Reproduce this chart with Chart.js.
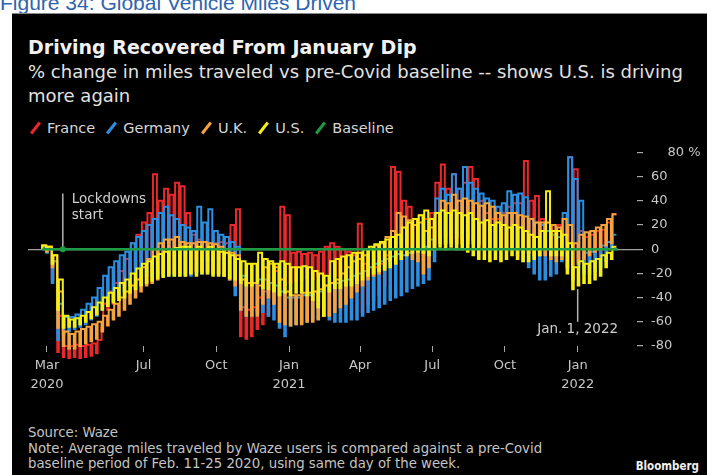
<!DOCTYPE html>
<html>
<head>
<meta charset="utf-8">
<script src="https://cdn.jsdelivr.net/npm/chart.js@4.4.1/dist/chart.umd.min.js"></script>
<style>
    body {
        margin: 0;
        width: 707px;
        height: 475px;
        overflow: hidden;
        position: relative;
        background: #ffffff;
        font-family: "DejaVu Sans", sans-serif;
    }
    #caption {
        position: absolute;
        left: 0;
        top: -8px;
        font-family: "Liberation Sans", Arial, sans-serif;
        font-size: 21px;
        line-height: 21px;
        color: #2f65ad;
        white-space: nowrap;
    }
    #panel {
        position: absolute;
        left: 12px;
        top: 13px;
        width: 695px;
        height: 462px;
        background: #000000;
        border-top: 1px solid #8a8a8a;
        box-sizing: border-box;
    }
    .txt {
        position: absolute;
        left: 28px;
        white-space: nowrap;
    }
    #title {
        top: 37px;
        font-size: 19px;
        line-height: 20px;
        font-weight: bold;
        color: #f2f2f2;
    }
    #subtitle {
        top: 60px;
        font-size: 18px;
        line-height: 24px;
        color: #e2e2e2;
    }
    #legend {
        top: 119px;
        font-size: 14.5px;
        line-height: 18px;
        color: #d6d6d6;
    }
    #legend .item {
        display: inline-block;
        margin-right: 9px;
    }
    #legend .mark {
        display: inline-block;
        width: 3px;
        height: 14px;
        margin: 0 10px 0 6px;
        vertical-align: -2px;
        transform: rotate(38deg);
    }
    #footer {
        top: 425px;
        font-size: 13.3px;
        line-height: 15.5px;
        color: #c4c4c4;
    }
    #brand {
        position: absolute;
        right: 8px;
        top: 459px;
        font-family: "DejaVu Sans Condensed", "DejaVu Sans", sans-serif;
        font-size: 11.5px;
        line-height: 15px;
        font-weight: bold;
        color: #f0f0f0;
    }
    #chartBox {
        position: absolute;
        left: 12px;
        top: 135px;
        width: 695px;
        height: 265px;
    }
</style>
</head>
<body>
<div id="caption">Figure 34: Global Vehicle Miles Driven</div>
<div id="panel"></div>
<div id="title" class="txt">Driving Recovered From January Dip</div>
<div id="subtitle" class="txt">% change in miles traveled vs pre-Covid baseline -- shows U.S. is driving<br>more again</div>
<div id="legend" class="txt"></div>
<div id="chartBox"><canvas id="chart"></canvas></div>
<div id="footer" class="txt">Source: Waze<br>Note: Average miles traveled by Waze users is compared against a pre-Covid<br>baseline period of Feb. 11-25 2020, using same day of the week.</div>
<div id="brand">Bloomberg</div>

<script>
// days counted from Mar 1, 2020; first week starts Mon Feb 24, 2020
const firstWeekDay = -6;

const seriesNames = ["France", "Germany", "U.K.", "U.S.", "Baseline"];
const seriesColors = ["#e8282b", "#2b8ee0", "#f5a33c", "#f5ee14", "#1f9a45"];

// weekly peak / trough of the daily % change
const franceHigh = [
    3, 2, -10, -55, -80, -80, -79, -80, -79, -78, -75, -45, -35,
    -28, -18, -8, 5, 12, 22, 30, 62, 40, 50, 45, 55, 52,
    30, 12, 8, 6, 5, 5, 6, 5, 20, 33, -48, -50, -48,
    -40, -35, -28, -18, 35, 28, -3, -2, -4, -3, -5, -2, 2,
    5, 2, 0, -2, -5, 21, -12, -15, -15, -12, -5, 68, 64,
    40, 35, 25, 28, 25, 30, 55, 70, 50, 62, 50, 55, 68,
    58, 40, 30, 25, 25, 30, 35, 38, 38, 73, 40, 44, 25,
    22, 20, 20, 25, 76, 66, 15, 10, 12, 15, 16, 22, 29
];
const franceLow = [
    0, -2, -25, -85, -89, -90, -89, -90, -89, -88, -86, -65, -50,
    -45, -38, -30, -20, -15, -10, -8, -5, -3, 0, 0, 2, 0,
    -5, -6, -8, -10, -10, -10, -8, -8, -5, -10, -72, -74, -72,
    -66, -62, -55, -45, -25, -30, -28, -26, -25, -24, -25, -22, -22,
    -20, -22, -22, -25, -25, -30, -52, -45, -42, -38, -30, 5, 5,
    5, 5, 3, 0, -5, 0, 5, 10, 10, 10, 10, 8, 8,
    8, 5, 0, 0, 0, 0, 0, 0, 0, 5, 0, 0, 0,
    0, -2, -5, -3, 5, 0, -10, -10, -8, -5, -5, 0, 5
];

const germanyHigh = [
    2, 0, -10, -45, -56, -56, -54, -50, -45, -40, -32, -22, -15,
    -10, -5, -2, 5, 10, 15, 20, 25, 30, 35, 28, 25, 20,
    18, 15, 35, 22, 33, 15, 12, 10, 6, 2, -22, -28, -28,
    -25, -25, -28, -30, -35, -40, -40, -40, -38, -38, -35, -35, -30,
    -28, -28, -26, -25, -22, -20, -18, -15, -12, -10, -8, -6, -4,
    -5, -3, 0, 0, 2, 8, 42, 50, 45, 62, 50, 68, 55,
    50, 46, 42, 40, 35, 38, 48, 45, 46, 43, 25, 22, 20,
    15, 12, 10, 30, 76, 58, 40, -3, -2, 0, 3, 6, 12
];
const germanyLow = [
    0, -3, -28, -75, -70, -68, -66, -64, -62, -58, -55, -50, -45,
    -42, -40, -35, -30, -28, -25, -22, -22, -20, -20, -22, -22, -22,
    -22, -22, -20, -20, -20, -20, -20, -22, -25, -38, -50, -55, -55,
    -52, -52, -55, -58, -65, -72, -63, -62, -60, -60, -58, -57, -55,
    -58, -60, -60, -60, -58, -58, -55, -52, -50, -48, -45, -42, -40,
    -38, -35, -32, -30, -28, -25, -10, 5, 5, 8, 10, 10, 10,
    8, 5, 5, 3, 2, 0, 0, 0, -5, -10, -15, -20, -25,
    -25, -22, -20, -10, 10, 5, -15, -20, -20, -18, -15, -10, 0
];

const ukHigh = [
    3, 2, -5, -35, -68, -70, -68, -66, -64, -62, -60, -55, -50,
    -45, -40, -35, -30, -25, -15, -8, 0, 5, 8, 8, 10, 6,
    5, 5, 6, 6, 5, 4, 2, 0, -3, -5, -25, -28, -28,
    -30, -15, -12, -15, -25, -35, -38, -38, -36, -36, -35, -33, -30,
    -28, -25, -20, -15, -10, -8, -5, 0, 3, 5, 10, 15, 30,
    27, 24, 20, 22, 15, 18, 30, 40, 38, 45, 40, 42, 40,
    38, 36, 38, 35, 30, 28, 30, 30, 28, 27, 25, 22, 22,
    22, 20, 18, 25, 20, 5, 12, 14, 15, 18, 20, 25, 29
];
const ukLow = [
    0, -2, -15, -65, -80, -82, -82, -80, -78, -76, -74, -68, -63,
    -58, -55, -50, -45, -40, -35, -30, -28, -25, -22, -20, -20, -20,
    -20, -20, -18, -18, -18, -20, -20, -22, -25, -30, -50, -55, -55,
    -55, -45, -40, -45, -60, -62, -63, -62, -62, -60, -60, -58, -55,
    -55, -52, -48, -45, -40, -35, -30, -25, -22, -20, -15, -10, -5,
    -5, -5, -8, -10, -20, -15, 0, 5, 5, 5, 5, 5, 5,
    5, 3, 2, 2, 0, 0, 0, 0, 0, -2, -3, -5, -5,
    -5, -8, -10, -8, -15, -25, -12, -8, -5, -2, 0, 3, 5
];

const usHigh = [
    3, 2, -5, -25, -55, -58, -57, -55, -52, -48, -44, -40, -36,
    -32, -28, -25, -20, -16, -12, -10, -6, -4, -2, 0, 1, 2,
    2, 0, 2, 0, 2, 0, -2, -3, -5, -8, -10, -12, -12,
    -3, -8, -10, -12, -10, -12, -15, -15, -14, -15, -18, -20, -22,
    -10, -8, -6, -5, -3, -3, 0, 2, 4, 6, 8, 10, 12,
    18, 22, 25, 28, 32, 25, 30, 32, 30, 32, 30, 28, 30,
    25, 22, 24, 20, 22, 20, 18, 20, 18, 15, 12, 10, 15,
    48, 15, 15, 12, 5, -15, -10, -12, -10, -8, -5, -3, 2
];
const usLow = [
    0, 0, -12, -50, -65, -64, -64, -62, -60, -57, -54, -50, -47,
    -44, -42, -40, -36, -33, -30, -28, -26, -24, -23, -22, -22, -22,
    -22, -20, -22, -20, -20, -22, -22, -22, -24, -25, -28, -30, -30,
    -28, -32, -33, -35, -38, -36, -38, -36, -36, -38, -42, -48, -55,
    -35, -32, -32, -30, -30, -28, -25, -22, -20, -18, -17, -15, -12,
    -8, -5, -3, -2, -3, -5, 0, 2, 0, 2, 0, 0, -2,
    -5, -8, -8, -10, -8, -10, -8, -5, -8, -10, -10, -8, -5,
    0, -5, -5, -5, -20, -33, -30, -28, -28, -25, -22, -15, -8
];

const baselineValue = 0;

// axis ticks
const xTickDays = [0, 122, 214, 306, 396, 487, 579, 671];
const xTickMonths = ["Mar", "Jul", "Oct", "Jan", "Apr", "Jul", "Oct", "Jan"];
const xTickYears = ["2020", "", "", "2021", "", "", "", "2022"];
const yTickValues = [-80, -60, -40, -20, 0, 20, 40, 60, 80];

// annotations
const lockdownDay = 20;
const lockdownTop = 46;
const jan1Day = 671;
const jan1Top = -33;
const jan1Bottom = -60;


// weekday trough at the start of each week, weekend peak 5 days later
function weeklyPoints(high, low) {
    const pts = [];
    for (let w = 0; w < high.length; w++) {
        const start = firstWeekDay + 7 * w;
        pts.push({ x: start, y: low[w] });
        pts.push({ x: start + 5, y: high[w] });
    }
    return pts;
}

const lastDay = firstWeekDay + 7 * franceHigh.length;

const seriesData = [
    weeklyPoints(franceHigh, franceLow),
    weeklyPoints(germanyHigh, germanyLow),
    weeklyPoints(ukHigh, ukLow),
    weeklyPoints(usHigh, usLow),
    [{ x: firstWeekDay, y: baselineValue }, { x: lastDay, y: baselineValue }]
];

const legend = document.getElementById("legend");
seriesNames.forEach((name, i) => {
    const item = document.createElement("span");
    item.className = "item";
    const mark = document.createElement("span");
    mark.className = "mark";
    mark.style.background = seriesColors[i];
    item.appendChild(mark);
    item.appendChild(document.createTextNode(name));
    legend.appendChild(item);
});

const labelFont = "13.5px 'DejaVu Sans', sans-serif";

const notesPlugin = {
    id: "notes",
    afterDatasetsDraw(chart) {
        const { ctx, scales: { x, y } } = chart;
        ctx.save();
        ctx.strokeStyle = "#b4b4b4";
        ctx.lineWidth = 1.5;
        ctx.fillStyle = "#d0d0d0";
        ctx.font = labelFont;
        ctx.textBaseline = "middle";

        const lx = x.getPixelForValue(lockdownDay);
        const ly0 = y.getPixelForValue(lockdownTop);
        const ly1 = y.getPixelForValue(baselineValue);
        ctx.beginPath();
        ctx.moveTo(lx, ly0);
        ctx.lineTo(lx, ly1);
        ctx.stroke();
        ctx.textAlign = "left";
        ctx.fillText("Lockdowns", lx + 9, ly0 + 6);
        ctx.fillText("start", lx + 9, ly0 + 22);

        ctx.fillStyle = seriesColors[4];
        ctx.beginPath();
        ctx.arc(lx, ly1, 3, 0, Math.PI * 2);
        ctx.fill();

        const jx = x.getPixelForValue(jan1Day);
        const jy0 = y.getPixelForValue(jan1Top);
        const jy1 = y.getPixelForValue(jan1Bottom);
        ctx.beginPath();
        ctx.moveTo(jx, jy0);
        ctx.lineTo(jx, jy1);
        ctx.stroke();
        ctx.fillStyle = "#d0d0d0";
        ctx.textAlign = "center";
        ctx.fillText("Jan. 1, 2022", jx, jy1 + 8);
        ctx.restore();
    }
};

const tickFont = {
    family: "'DejaVu Sans', sans-serif",
    size: 13,
    lineHeight: 1.45
};

new Chart(document.getElementById("chart").getContext("2d"), {
    type: "line",
    data: {
        datasets: seriesNames.map((name, i) => ({
            label: name,
            data: seriesData[i],
            borderColor: seriesColors[i],
            borderWidth: i === 4 ? 2.5 : 2,
            pointRadius: 0,
            stepped: i === 4 ? false : "after",
            clip: false,
            // France drawn first (bottom), baseline last (top)
            order: seriesNames.length - i
        }))
    },
    options: {
        responsive: true,
        maintainAspectRatio: false,
        animation: false,
        events: [],
        layout: {
            padding: { left: 16, top: 14, right: 0, bottom: 0 }
        },
        plugins: {
            legend: { display: false },
            tooltip: { enabled: false }
        },
        scales: {
            x: {
                type: "linear",
                min: -24,
                max: 746,
                afterBuildTicks: (scale) => {
                    scale.ticks = xTickDays.map(v => ({ value: v }));
                },
                afterFit: (scale) => {
                    scale.height = 54;
                },
                border: { display: false },
                grid: {
                    drawOnChartArea: false,
                    drawTicks: true,
                    tickLength: 6,
                    color: "#a8a8a8"
                },
                ticks: {
                    autoSkip: false,
                    maxRotation: 0,
                    padding: 4,
                    color: "#c8c8c8",
                    font: tickFont,
                    callback: (value, index) =>
                        xTickYears[index] ? [xTickMonths[index], xTickYears[index]] : xTickMonths[index]
                }
            },
            y: {
                position: "right",
                min: -80,
                max: 80,
                afterBuildTicks: (scale) => {
                    scale.ticks = yTickValues.map(v => ({ value: v }));
                },
                afterFit: (scale) => {
                    scale.width = 70;
                },
                border: { display: false },
                grid: {
                    color: (c) => (c.tick && c.tick.value === 0 ? "#a0a0a0" : "transparent"),
                    tickColor: "#a8a8a8",
                    tickLength: 6,
                    lineWidth: 1.2
                },
                ticks: {
                    padding: 8,
                    color: "#c8c8c8",
                    font: tickFont,
                    callback: (value) => (value === 80 ? "    80 %" : String(value))
                }
            }
        }
    },
    plugins: [notesPlugin]
});
</script>
</body>
</html>
